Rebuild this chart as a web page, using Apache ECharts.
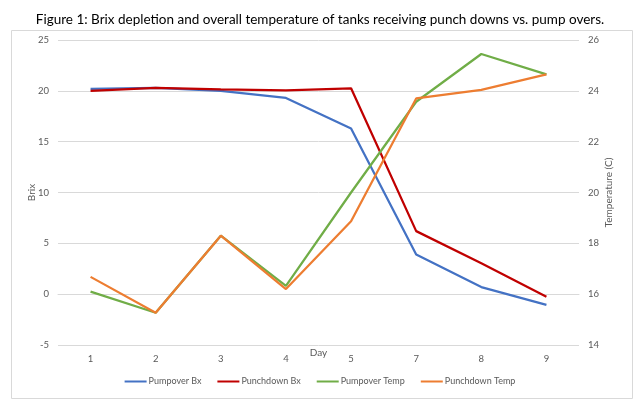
<!DOCTYPE html>
<html><head><meta charset="utf-8">
<script src="https://cdn.jsdelivr.net/npm/echarts@6/dist/echarts.min.js"></script>
<style>html,body{margin:0;padding:0;background:#fff}#c{width:640px;height:401px}</style>
</head><body><div id="c"></div>
<script>
const days = ['1','2','3','4','5','7','8','9'];
const pumpoverBx = [20.2, 20.3, 20.0, 19.3, 16.3, 3.9, 0.7, -1.05];
const punchdownBx = [20.0, 20.3, 20.15, 20.05, 20.25, 6.2, 3.05, -0.25];
const pumpoverTemp = [16.1, 15.27, 18.3, 16.33, 20.0, 23.57, 25.45, 24.65];
const punchdownTemp = [16.68, 15.27, 18.3, 16.2, 18.87, 23.7, 24.04, 24.65];
const brixTicks = {min: -5, max: 25, interval: 5};
const tempTicks = {min: 14, max: 26, interval: 2};

const FONT = 'Lato, "Open Sans", sans-serif';
const GRAY = '#595959';
const chart = echarts.init(document.getElementById('c'), null, {renderer: 'canvas'});
chart.setOption({
  animation: false,
  textStyle: {fontFamily: FONT},
  title: {
    text: 'Figure 1: Brix depletion and overall temperature of tanks receiving punch downs vs. pump overs.',
    left: 'center', top: 8,
    textStyle: {fontFamily: FONT, fontSize: 13.5, fontWeight: 'normal', color: '#000'}
  },
  graphic: [{
    type: 'rect', shape: {x: 11.5, y: 30.5, width: 621, height: 368},
    style: {fill: 'none', stroke: '#d9d9d9', lineWidth: 1}, silent: true, z: -1
  }],
  grid: {left: 58, right: 61, top: 40, bottom: 56, containLabel: false, outerBoundsMode: 'none'},
  legend: {
    bottom: 10, left: 'center', itemWidth: 22, itemHeight: 2, itemGap: 16,
    icon: 'rect',
    textStyle: {fontFamily: FONT, fontSize: 9, color: GRAY, padding: [0, 0, 0, -3]},
    data: ['Pumpover Bx', 'Punchdown Bx', 'Pumpover Temp', 'Punchdown Temp']
  },
  xAxis: {
    type: 'category', data: days, boundaryGap: true,
    name: 'Day', nameLocation: 'middle', nameGap: 3, nameMoveOverlap: false,
    nameTextStyle: {fontFamily: FONT, fontSize: 10, color: GRAY},
    axisLine: {onZero: true, onZeroAxisIndex: 0, lineStyle: {color: '#d9d9d9'}},
    axisTick: {show: false},
    axisLabel: {fontFamily: FONT, fontSize: 9.5, color: GRAY, margin: 9}
  },
  yAxis: [{
    type: 'value', min: brixTicks.min, max: brixTicks.max, interval: brixTicks.interval,
    name: 'Brix', nameLocation: 'middle', nameGap: 21, nameRotate: 90, nameMoveOverlap: false,
    nameTextStyle: {fontFamily: FONT, fontSize: 10, color: GRAY},
    axisLine: {show: false}, axisTick: {show: false},
    axisLabel: {fontFamily: FONT, fontSize: 9.5, color: GRAY, margin: 9},
    splitLine: {lineStyle: {color: '#d9d9d9', width: 1}}
  }, {
    type: 'value', min: tempTicks.min, max: tempTicks.max, interval: tempTicks.interval,
    name: 'Temperature (C)', nameLocation: 'middle', nameGap: 25, nameRotate: 90, nameMoveOverlap: false,
    nameTextStyle: {fontFamily: FONT, fontSize: 10, color: GRAY},
    axisLine: {show: false}, axisTick: {show: false},
    axisLabel: {fontFamily: FONT, fontSize: 9.5, color: GRAY, margin: 9},
    splitLine: {show: false}
  }],
  series: [
    {name: 'Pumpover Bx', type: 'line', yAxisIndex: 0, data: pumpoverBx, symbol: 'none',
     lineStyle: {width: 2.25, color: '#4472C4'}, itemStyle: {color: '#4472C4'}},
    {name: 'Punchdown Bx', type: 'line', yAxisIndex: 0, data: punchdownBx, symbol: 'none',
     lineStyle: {width: 2.25, color: '#C00000'}, itemStyle: {color: '#C00000'}},
    {name: 'Pumpover Temp', type: 'line', yAxisIndex: 1, data: pumpoverTemp, symbol: 'none',
     lineStyle: {width: 2.25, color: '#70AD47'}, itemStyle: {color: '#70AD47'}},
    {name: 'Punchdown Temp', type: 'line', yAxisIndex: 1, data: punchdownTemp, symbol: 'none',
     lineStyle: {width: 2.25, color: '#ED7D31'}, itemStyle: {color: '#ED7D31'}}
  ]
});
</script></body></html>
